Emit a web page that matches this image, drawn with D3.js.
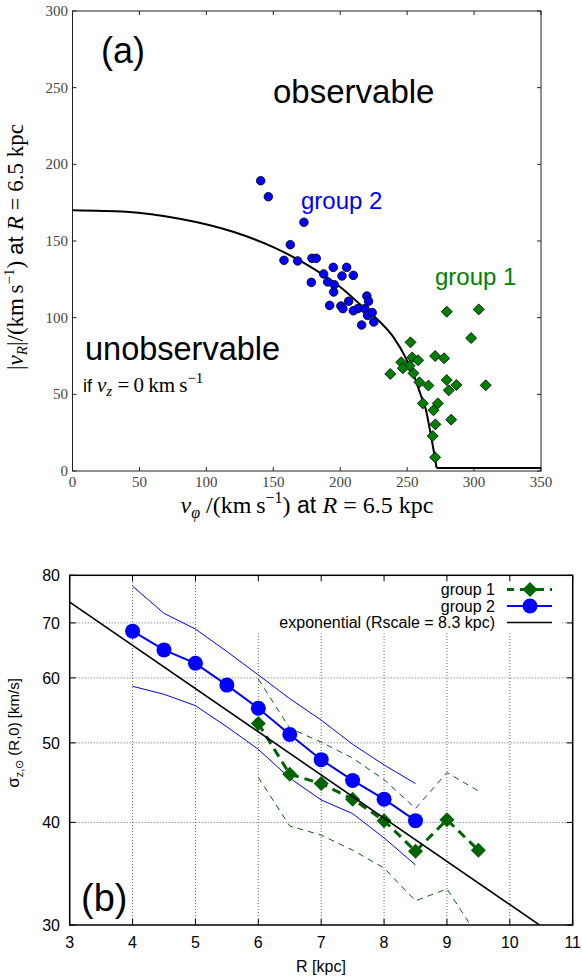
<!DOCTYPE html>
<html>
<head>
<meta charset="utf-8">
<script src="https://cdn.jsdelivr.net/npm/d3@7"></script>
<style>
  body { margin: 0; background: #fff; }
  svg { display: block; }
</style>
</head>
<body>
<div id="chart"></div>
<script>
// ---------- panel (a) data ----------
// boundary between observable / unobservable region
var boundVphi = [0, 40, 80, 120, 150, 180, 200, 217, 230, 240, 250, 256, 260, 264, 268, 270.5, 272];
var boundVR   = [170, 169, 164.5, 156, 146, 132, 120, 107, 97, 87, 72, 60, 50, 40, 22, 10, 2];
var floorVphi = [272, 350];
var floorVR   = [2, 2];

// group 2 stars (blue circles)
var g2Vphi = [140.6, 146.3, 172.9, 162.7, 158, 168.2, 178.9, 182.1, 178.4, 187.6,
              194.8, 204.8, 201.3, 209.8, 190.6, 195.6, 195.1, 192.1, 200.5, 202,
              206.3, 209.8, 213.2, 218.4, 219.9, 221.2, 220.4, 223.9, 225.1, 216];
var g2VR   = [189.3, 178.9, 162.2, 147.6, 137.4, 137, 138.7, 138.7, 123, 128.5,
              132.8, 132.8, 127.2, 127.6, 123.3, 121.5, 116.7, 108, 107.6, 105.9,
              110.7, 104.5, 105.9, 105.9, 114.1, 110.7, 101.5, 103.3, 97.2, 95.2];

// group 1 stars (green diamonds)
var g1Vphi = [279.6, 303.5, 297.8, 252.5, 270.9, 277.6, 253.8, 258.2, 245.6, 251.8,
              246.8, 254.7, 237.4, 259.2, 265.9, 279.6, 286.8, 281.1, 308.7, 261.7,
              272.9, 269.7, 282.9, 271.1, 269.1, 270.9];
var g1VR   = [103.9, 105.4, 86.7, 83.9, 75, 73.5, 74.1, 72.2, 70.9, 68.7,
              67, 63.7, 63.3, 57.8, 55.7, 59.3, 56.1, 52.6, 55.9, 44.1,
              44.1, 39.6, 33.5, 30.4, 22.8, 8.9];

var ticksAx = [0, 50, 100, 150, 200, 250, 300, 350];
var ticksAy = [0, 50, 100, 150, 200, 250, 300];

// ---------- panel (b) data ----------
var g2R     = [4, 4.5, 5, 5.5, 6, 6.5, 7, 7.5, 8, 8.5];
var g2Sigma = [68.4, 64.9, 62.5, 58.8, 55.1, 51.2, 47.7, 45.0, 42.7, 40.2];
var g2Upper = [77.6, 71.9, 68.8, 64.6, 60.5, 56.6, 53.3, 49.8, 47.0, 44.6];
var g2Lower = [58.6, 57.3, 55.5, 52.3, 49.1, 45.3, 42.6, 41.0, 38.3, 35.5];

var g1R     = [6, 6.5, 7, 7.5, 8, 8.5, 9, 9.5];
var g1Sigma = [52.8, 45.8, 44.6, 42.7, 40.2, 36.9, 40.3, 37.0];
var g1Upper = [59.8, 52.1, 50.1, 47.9, 45.1, 41.6, 46.0, 43.7];
var g1Lower = [45.4, 39.6, 38.6, 37.0, 35.2, 32.1, 33.2, 29.0];

var expR     = [3, 10.5];
var expSigma = [74.2, 29.9];

var ticksBx = [3, 4, 5, 6, 7, 8, 9, 10, 11];
var ticksBy = [30, 40, 50, 60, 70, 80];
var gridBx  = [4, 5, 6, 7, 8, 9, 10];
var gridBy  = [40, 50, 60, 70];

var legendItems = ["group 1", "group 2", "exponential (Rscale = 8.3 kpc)"];

// ---------- svg ----------
var width = 582, height = 979;
var svg = d3.select("#chart").append("svg")
    .attr("width", width)
    .attr("height", height);

var sans = "'Liberation Sans', Arial, sans-serif";
var serif = "'Liberation Serif', 'DejaVu Serif', serif";
var green1 = "#008000", blue = "#0000ff", dkgreen = "#006400";
var thin = "\u2009";

//helper: add a run of tspans (text, style) onto a text element
function addRuns(text, runs) {
  runs.forEach(function (r) {
    text.append("tspan")
      .attr("font-family", r.f || serif)
      .attr("font-style", r.i ? "italic" : null)
      .attr("font-size", r.s || null)
      .attr("dy", r.dy || 0)
      .text(r.t);
  });
}

// =============== panel (a) ===============
var xA = d3.scaleLinear().domain([0, 350]).range([72.5, 541]);
var yA = d3.scaleLinear().domain([0, 300]).range([471, 11]);

var gA = svg.append("g");

// frame
gA.append("rect")
  .attr("x", xA(0)).attr("y", yA(300))
  .attr("width", xA(350) - xA(0)).attr("height", yA(0) - yA(300))
  .attr("fill", "none").attr("stroke", "#222").attr("stroke-width", 1);

// inward ticks on all four sides
ticksAx.forEach(function (t) {
  gA.append("line").attr("x1", xA(t)).attr("x2", xA(t))
    .attr("y1", yA(0)).attr("y2", yA(0) - 4).attr("stroke", "#222");
  gA.append("line").attr("x1", xA(t)).attr("x2", xA(t))
    .attr("y1", yA(300)).attr("y2", yA(300) + 4).attr("stroke", "#222");
  gA.append("text").attr("x", xA(t)).attr("y", 487)
    .attr("text-anchor", "middle").attr("font-family", serif)
    .attr("font-size", 15).attr("fill", "#444").text(t);
});
ticksAy.forEach(function (t) {
  gA.append("line").attr("x1", xA(0)).attr("x2", xA(0) + 4)
    .attr("y1", yA(t)).attr("y2", yA(t)).attr("stroke", "#222");
  gA.append("line").attr("x1", xA(350)).attr("x2", xA(350) - 4)
    .attr("y1", yA(t)).attr("y2", yA(t)).attr("stroke", "#222");
  gA.append("text").attr("x", 68).attr("y", yA(t)).attr("dy", "0.33em")
    .attr("text-anchor", "end").attr("font-family", serif)
    .attr("font-size", 15).attr("fill", "#444").text(t);
});

// boundary curve
var lineA = d3.line().x(function (d) { return xA(d[0]); }).y(function (d) { return yA(d[1]); });
gA.append("path")
  .datum(d3.zip(boundVphi, boundVR))
  .attr("d", lineA.curve(d3.curveMonotoneX))
  .attr("fill", "none").attr("stroke", "#000").attr("stroke-width", 2);
gA.append("path")
  .datum(d3.zip(floorVphi, floorVR))
  .attr("d", d3.line().x(function (d) { return xA(d[0]); }).y(function (d) { return yA(d[1]); }))
  .attr("fill", "none").attr("stroke", "#000").attr("stroke-width", 2);

// group 1 diamonds
gA.append("g").selectAll("path")
  .data(d3.zip(g1Vphi, g1VR))
  .enter().append("path")
  .attr("transform", function (d) { return "translate(" + xA(d[0]) + "," + yA(d[1]) + ")"; })
  .attr("d", "M0,-5.5L5.5,0L0,5.5L-5.5,0Z")
  .attr("fill", green1).attr("stroke", "#000").attr("stroke-width", 0.8);

// group 2 circles
gA.append("g").selectAll("circle")
  .data(d3.zip(g2Vphi, g2VR))
  .enter().append("circle")
  .attr("cx", function (d) { return xA(d[0]); })
  .attr("cy", function (d) { return yA(d[1]); })
  .attr("r", 4.3)
  .attr("fill", blue).attr("stroke", "#000").attr("stroke-width", 0.8);

// annotations
gA.append("text").attr("x", 101).attr("y", 63).attr("font-family", sans)
  .attr("font-size", 36).text("(a)");
gA.append("text").attr("x", 273).attr("y", 103).attr("font-family", sans)
  .attr("font-size", 33).text("observable");
gA.append("text").attr("x", 301).attr("y", 209).attr("font-family", sans)
  .attr("font-size", 24).attr("fill", blue).text("group 2");
gA.append("text").attr("x", 435).attr("y", 285).attr("font-family", sans)
  .attr("font-size", 24).attr("fill", green1).text("group 1");
gA.append("text").attr("x", 85).attr("y", 360).attr("font-family", sans)
  .attr("font-size", 32.5).text("unobservable");

var ifText = gA.append("text").attr("x", 83).attr("y", 392).attr("font-size", 21);
addRuns(ifText, [
  { t: "if ", f: sans, s: 18 },
  { t: "v", i: true },
  { t: "z", i: true, s: 15, dy: 4 },
  { t: " =" + thin + "0" + thin + "km" + thin + "s", dy: -4 },
  { t: "\u22121", s: 15, dy: -9 }
]);

// axis labels
var xlabA = gA.append("text").attr("x", 307).attr("y", 513)
  .attr("text-anchor", "middle").attr("font-size", 24);
addRuns(xlabA, [
  { t: "v", i: true },
  { t: "\u03c6", i: true, s: 16, dy: 5 },
  { t: " /(km" + thin + "s", dy: -5 },
  { t: "\u22121", s: 16, dy: -10 },
  { t: ")", dy: 10 },
  { t: " at ", f: sans, s: 23 },
  { t: "R", i: true },
  { t: " = 6.5 kpc" }
]);

var ylabA = gA.append("text")
  .attr("transform", "translate(23,247) rotate(-90)")
  .attr("text-anchor", "middle").attr("font-size", 23);
addRuns(ylabA, [
  { t: "|" },
  { t: "v", i: true },
  { t: "R", i: true, s: 15, dy: 4 },
  { t: "|/(km" + thin + "s", dy: -4 },
  { t: "\u22121", s: 15, dy: -9 },
  { t: ")", dy: 9 },
  { t: " at ", f: sans, s: 22 },
  { t: "R", i: true },
  { t: " = 6.5 kpc" }
]);

// =============== panel (b) ===============
var xB = d3.scaleLinear().domain([3, 11]).range([69.7, 572.7]);
var yB = d3.scaleLog().domain([30, 80]).range([925, 575.3]);

var gB = svg.append("g");

svg.append("defs").append("clipPath").attr("id", "clipB")
  .append("rect")
  .attr("x", xB(3)).attr("y", yB(80))
  .attr("width", xB(11) - xB(3)).attr("height", yB(30) - yB(80));

// grid
gridBx.forEach(function (t) {
  gB.append("line").attr("x1", xB(t)).attr("x2", xB(t))
    .attr("y1", yB(30)).attr("y2", yB(80))
    .attr("stroke", "#555").attr("stroke-width", 0.9).attr("stroke-dasharray", "1,2");
});
gridBy.forEach(function (t) {
  gB.append("line").attr("x1", xB(3)).attr("x2", xB(11))
    .attr("y1", yB(t)).attr("y2", yB(t))
    .attr("stroke", "#555").attr("stroke-width", 0.9).attr("stroke-dasharray", "1,2");
});
// key area hides the grid
gB.append("rect").attr("x", 196).attr("y", yB(80) + 1)
  .attr("width", 366).attr("height", 57).attr("fill", "#fff");

// ticks + labels
ticksBx.forEach(function (t) {
  gB.append("line").attr("x1", xB(t)).attr("x2", xB(t))
    .attr("y1", yB(30)).attr("y2", yB(30) - 6).attr("stroke", "#000");
  gB.append("line").attr("x1", xB(t)).attr("x2", xB(t))
    .attr("y1", yB(80)).attr("y2", yB(80) + 6).attr("stroke", "#000");
  gB.append("text").attr("x", xB(t)).attr("y", 948)
    .attr("text-anchor", "middle").attr("font-family", sans)
    .attr("font-size", 16).text(t);
});
ticksBy.forEach(function (t) {
  gB.append("line").attr("x1", xB(3)).attr("x2", xB(3) + 6)
    .attr("y1", yB(t)).attr("y2", yB(t)).attr("stroke", "#000");
  gB.append("line").attr("x1", xB(11)).attr("x2", xB(11) - 6)
    .attr("y1", yB(t)).attr("y2", yB(t)).attr("stroke", "#000");
  gB.append("text").attr("x", 60).attr("y", yB(t)).attr("dy", "0.36em")
    .attr("text-anchor", "end").attr("font-family", sans)
    .attr("font-size", 16).text(t);
});

var lineB = d3.line().x(function (d) { return xB(d[0]); }).y(function (d) { return yB(d[1]); });
var plotB = gB.append("g").attr("clip-path", "url(#clipB)");

// thin envelopes
[g1Upper, g1Lower].forEach(function (arr) {
  plotB.append("path").datum(d3.zip(g1R, arr)).attr("d", lineB)
    .attr("fill", "none").attr("stroke", dkgreen).attr("stroke-width", 1)
    .attr("stroke-dasharray", "6,5");
});
[g2Upper, g2Lower].forEach(function (arr) {
  plotB.append("path").datum(d3.zip(g2R, arr)).attr("d", lineB)
    .attr("fill", "none").attr("stroke", blue).attr("stroke-width", 1);
});

// group 1 main
plotB.append("path").datum(d3.zip(g1R, g1Sigma)).attr("d", lineB)
  .attr("fill", "none").attr("stroke", dkgreen).attr("stroke-width", 3)
  .attr("stroke-dasharray", "9,6");
plotB.append("g").selectAll("path").data(d3.zip(g1R, g1Sigma)).enter().append("path")
  .attr("transform", function (d) { return "translate(" + xB(d[0]) + "," + yB(d[1]) + ")"; })
  .attr("d", "M0,-7.5L7.5,0L0,7.5L-7.5,0Z").attr("fill", dkgreen);

// group 2 main
plotB.append("path").datum(d3.zip(g2R, g2Sigma)).attr("d", lineB)
  .attr("fill", "none").attr("stroke", blue).attr("stroke-width", 2);
plotB.append("g").selectAll("circle").data(d3.zip(g2R, g2Sigma)).enter().append("circle")
  .attr("cx", function (d) { return xB(d[0]); })
  .attr("cy", function (d) { return yB(d[1]); })
  .attr("r", 7.5).attr("fill", blue);

// exponential
plotB.append("path").datum(d3.zip(expR, expSigma)).attr("d", lineB)
  .attr("fill", "none").attr("stroke", "#000").attr("stroke-width", 1.6);

// frame
gB.append("rect")
  .attr("x", xB(3)).attr("y", yB(80))
  .attr("width", xB(11) - xB(3)).attr("height", yB(30) - yB(80))
  .attr("fill", "none").attr("stroke", "#000").attr("stroke-width", 1.5);

// legend
var legY = [595, 611.5, 628];
legendItems.forEach(function (name, i) {
  gB.append("text").attr("x", 495).attr("y", legY[i])
    .attr("text-anchor", "end").attr("font-family", sans)
    .attr("font-size", 16).text(name);
});
var ly0 = legY[0] - 5.5, ly1 = legY[1] - 5.5, ly2 = legY[2] - 5.5;
gB.append("line").attr("x1", 507).attr("x2", 552).attr("y1", ly0).attr("y2", ly0)
  .attr("stroke", dkgreen).attr("stroke-width", 3).attr("stroke-dasharray", "9,6")
  .attr("stroke-dashoffset", 2);
gB.append("path").attr("transform", "translate(530," + ly0 + ")")
  .attr("d", "M0,-7.5L7.5,0L0,7.5L-7.5,0Z").attr("fill", dkgreen);
gB.append("line").attr("x1", 507).attr("x2", 552).attr("y1", ly1).attr("y2", ly1)
  .attr("stroke", blue).attr("stroke-width", 2);
gB.append("circle").attr("cx", 530).attr("cy", ly1).attr("r", 7.5).attr("fill", blue);
gB.append("line").attr("x1", 507).attr("x2", 552).attr("y1", ly2).attr("y2", ly2)
  .attr("stroke", "#000").attr("stroke-width", 1.6);

// "(b)"
gB.append("text").attr("x", 81).attr("y", 911).attr("font-family", sans)
  .attr("font-size", 38).text("(b)");

// axis labels
gB.append("text").attr("x", 321).attr("y", 972).attr("text-anchor", "middle")
  .attr("font-family", sans).attr("font-size", 16).text("R [kpc]");

var ylabB = gB.append("text")
  .attr("transform", "translate(19,733) rotate(-90)")
  .attr("text-anchor", "middle").attr("font-family", sans).attr("font-size", 15);
addRuns(ylabB, [
  { t: "\u03c3", f: sans, s: 17 },
  { t: "z,\u2299", f: sans, s: 11, dy: 4 },
  { t: " (R,0) [km/s]", f: sans, dy: -4 }
]);
</script>
</body>
</html>
